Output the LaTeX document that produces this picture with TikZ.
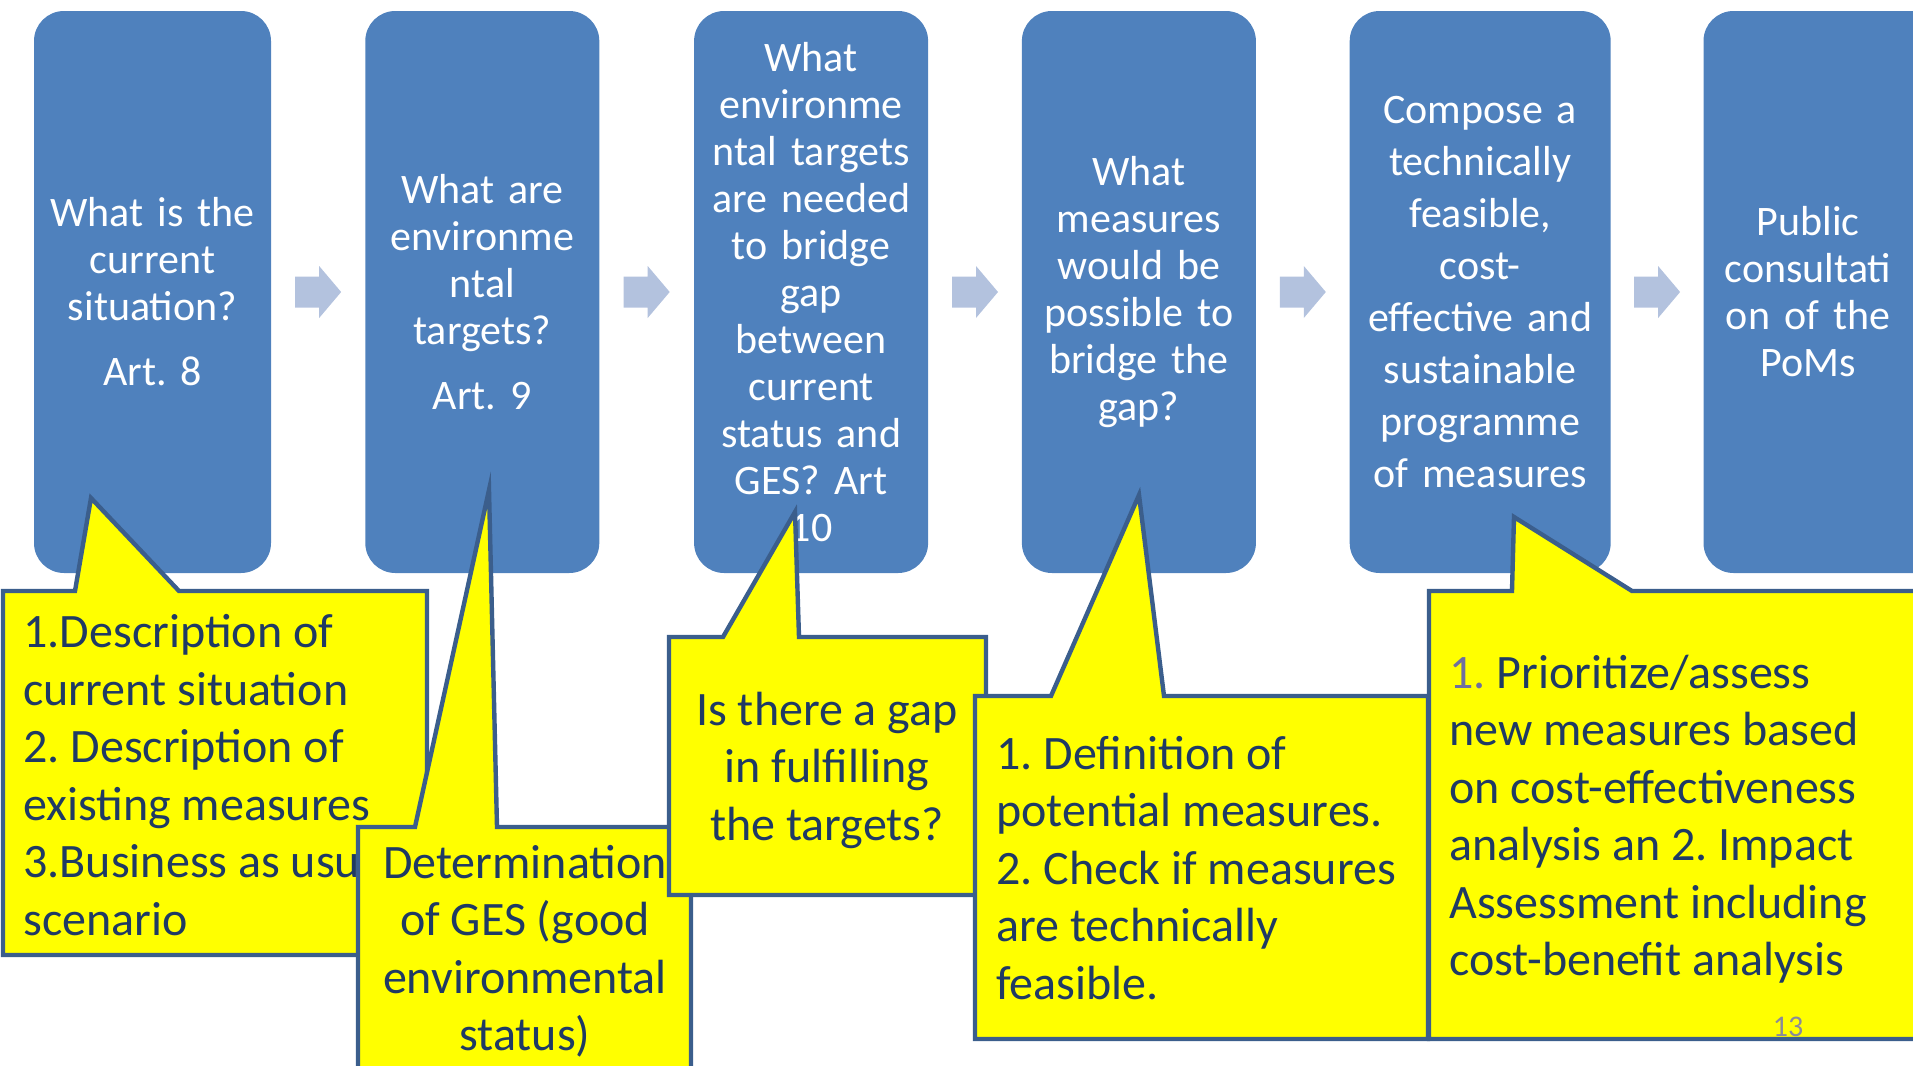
\documentclass[tikz,border=0pt]{standalone}
\usepackage{fontspec}
\setmainfont{Carlito}
\frenchspacing
\usetikzlibrary{positioning,calc}

\definecolor{boxblue}{HTML}{4F81BD}
\definecolor{flowblue}{HTML}{B3C2DE}
\definecolor{noteyellow}{HTML}{FFFF00}
\definecolor{noteline}{HTML}{3B5E8C}
\definecolor{notetext}{HTML}{1F3A64}
\definecolor{numgray}{HTML}{6E6EA0}
\definecolor{pagegray}{HTML}{8A8A9A}

\tikzset{
  stepbox/.style={rectangle, rounded corners=15pt, fill=boxblue, text=white,
    minimum width=117pt, minimum height=281pt, text width=108pt, align=center,
    inner sep=2pt, font=\fontsize{21}{23.5}\selectfont},
  note/.style={fill=noteyellow, draw=noteline, line width=2.2pt},
  notetxt/.style={text=notetext, font=\fontsize{24}{28.75}\selectfont, inner sep=0pt},
}

\newcommand{\flowarrow}[1]{%
  \fill[flowblue] (#1) ++(-23,-15.5) -- ++(24,0) -- ++(0,-10.5) -- ++(22,26)
    -- ++(-22,26) -- ++(0,-10.5) -- ++(-24,0) -- cycle;}

\begin{document}
\begin{tikzpicture}[x=0.5pt, y=-0.5pt]

  \useasboundingbox (0,0) rectangle (1913,1066);
  \clip (0,0) rectangle (1913,1066);

  % steps
  \node[stepbox, minimum width=118.5pt] (sit) at (152.5,292) {What is the\\current\\situation?\\[9pt]Art. 8};
  \node[stepbox, right=46.75pt of sit] (tgt) {What are\\environme\\ntal\\targets?\\[9pt]Art. 9};
  \node[stepbox, right=47pt of tgt] (gap) {What\\environme\\ntal targets\\are needed\\to bridge\\gap\\between\\current\\status and\\GES? Art\\10};
  \node[stepbox, right=46.5pt of gap] (meas) {What\\measures\\would be\\possible to\\bridge the\\gap?};
  \node[stepbox, minimum width=130.5pt, text width=124pt, font=\fontsize{21}{26}\selectfont, right=46.5pt of meas] (prog) {Compose a\\technically\\feasible,\\cost-\\effective and\\sustainable\\programme\\of measures};
  \node[stepbox, minimum width=125pt, right=46pt of prog] (cons) {};
  \node[stepbox, fill=none, minimum width=0pt] (consT) at (1808,292) {Public\\consultati\\on of the\\PoMs};

  \foreach \a/\b in {sit/tgt, tgt/gap, gap/meas, meas/prog, prog/cons}
    \flowarrow{$(\a.east)!0.5!(\b.west)$};

  % callouts
  \draw[note] (3,591) -- (75,591) -- (91,498) -- (179,591) -- (427,591) -- (427,955) -- (3,955) -- cycle;
  \node[notetxt, anchor=west, align=left] (desc) at (23,775) {1.Description of\\current situation\\2. Description of\\existing measures\\3.Business as usual\\scenario};

  \draw[note] (358,827) -- (415,827) -- (489,490) -- (497,827) -- (691,827) -- (691,1100) -- (358,1100) -- cycle;
  \node[notetxt, align=center] (ges) at (525,951) {Determination\\of GES (good\\environmental\\status)};

  \draw[note] (669,637) -- (723,637) -- (795,512) -- (799,637) -- (986,637) -- (986,895) -- (669,895) -- cycle;
  \node[notetxt, align=center] (gapq) at (827,770) {Is there a gap\\in fulfilling\\the targets?};

  \draw[note] (975,696) -- (1051,696) -- (1139,495) -- (1164,696) -- (1428,696) -- (1428,1039) -- (975,1039) -- cycle;
  \node[notetxt, anchor=west, align=left] (defn) at (996,868) {1. Definition of\\potential measures.\\2. Check if measures\\are technically\\feasible.};

  \draw[note] (1429,591) -- (1512,591) -- (1514,517) -- (1632,591) -- (1960,591) -- (1960,1039) -- (1429,1039) -- cycle;
  \node[notetxt, anchor=west, align=left] (prio) at (1449,819) {\textcolor{numgray}{1.} Prioritize/assess\\new measures based\\on cost-effectiveness\\analysis an 2. Impact\\Assessment including\\cost-benefit analysis};

  \node[text=pagegray, font=\fontsize{15}{18}\selectfont] (pgno) at (1788,1027) {13};

\end{tikzpicture}
\end{document}
